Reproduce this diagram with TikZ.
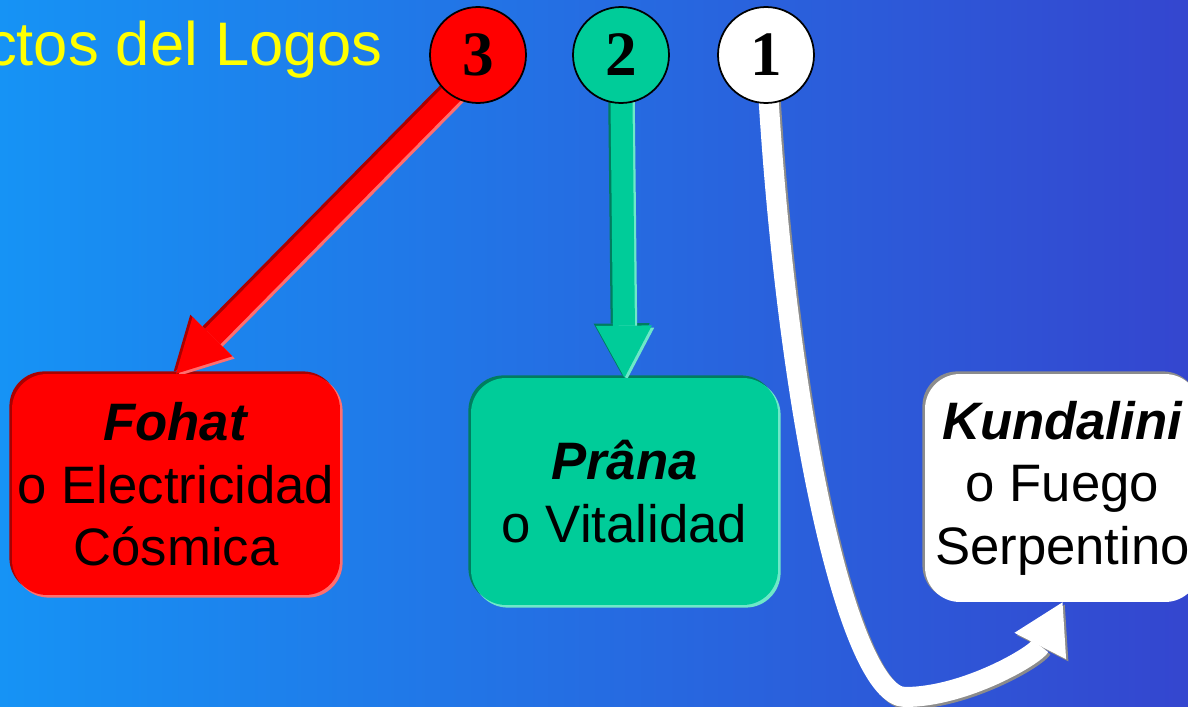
\documentclass[tikz,border=0pt]{standalone}
\usepackage{fontspec}
\setmainfont{Liberation Sans}
\newfontfamily\numfont{Liberation Serif}
\usetikzlibrary{arrows.meta,calc}
\definecolor{bgL}{RGB}{22,147,245}
\definecolor{bgR}{RGB}{52,70,207}
\definecolor{tealF}{RGB}{0,204,153}
\definecolor{tealD}{RGB}{0,125,95}
\definecolor{tealL}{RGB}{110,232,200}
\definecolor{redD}{RGB}{170,0,0}
\definecolor{redL}{RGB}{255,110,110}
\definecolor{grayS}{RGB}{140,140,140}
\definecolor{titleY}{RGB}{255,255,0}
\pgfdeclarelayer{back}
\pgfdeclarelayer{mid}
\pgfsetlayers{back,mid,main}
\begin{document}
\begin{tikzpicture}[x=0.02cm,y=-0.02cm,
  titletext/.style={text=titleY,font=\fontsize{35}{40}\selectfont,inner sep=0},
  numnode/.style={circle,draw=black,line width=1pt,minimum size=1.92cm,inner sep=0,
    font=\numfont\bfseries\fontsize{36}{36}\selectfont},
  boxnode/.style={rounded corners=0.7cm,inner sep=0,align=center,
    font=\fontsize{30}{35.5}\selectfont},
  fatarrow/.style={line width=0.44cm,-{Triangle[width=1.12cm,length=1.04cm,line width=0pt]}},
  whitearrow/.style={line width=0.4cm,-{Triangle[width=1.16cm,length=0.98cm,line width=0pt]}},
  upleft/.style={transform canvas={xshift=-1.3pt,yshift=1.3pt}},
  downright/.style={transform canvas={xshift=1.3pt,yshift=-1.3pt}}
]
\useasboundingbox (0,0) rectangle (1188,707);
\begin{pgfonlayer}{back}
\shade[left color=bgL,right color=bgR] (0,0) rectangle (1188,707);
\end{pgfonlayer}

% title
\node[titletext,anchor=base east] (title) at (383,65) {ctos del Logos};

% numbered circles
\node[numnode,fill=red] (c3) at (478,55) {3};
\node[numnode,fill=tealF] (c2) at (621,55) {2};
\node[numnode,fill=white] (c1) at (766,55) {1};

% boxes
\node[boxnode,fill=red,minimum width=6.56cm,minimum height=4.42cm] (fohat) at (176,484.5)
  {\textbf{\textit{Fohat}}\\o Electricidad\\Cósmica};
\node[boxnode,fill=tealF,minimum width=6.14cm,minimum height=4.54cm] (prana) at (624.5,491.5)
  {\textbf{\textit{Prâna}}\\o Vitalidad};
\node[boxnode,fill=white,minimum width=5.5cm,minimum height=4.56cm] (kund) at (1062.5,488)
  {\textbf{\textit{Kundalini}}\\o Fuego \\Serpentino};

\coordinate (wb) at (905,697);

\begin{pgfonlayer}{mid}
% box bevels
\fill[redD,rounded corners=0.7cm,upleft] (fohat.north west) rectangle (fohat.south east);
\fill[redL,rounded corners=0.7cm,downright] (fohat.north west) rectangle (fohat.south east);
\fill[tealD,rounded corners=0.7cm,upleft] (prana.north west) rectangle (prana.south east);
\fill[tealL,rounded corners=0.7cm,downright] (prana.north west) rectangle (prana.south east);
\fill[grayS,rounded corners=0.7cm,upleft] (kund.north west) rectangle (kund.south east);

% red arrow 3 -> Fohat
\draw[fatarrow,redD,upleft] ([shift={(12,0)}]c3.center) -- (fohat.north);
\draw[fatarrow,redL,downright] ([shift={(12,0)}]c3.center) -- (fohat.north);
\draw[fatarrow,red] ([shift={(12,0)}]c3.center) -- (fohat.north);

% teal arrow 2 -> Prana
\draw[fatarrow,tealD,upleft] (c2.center) -- (prana.north);
\draw[fatarrow,tealL,downright] (c2.center) -- (prana.north);
\draw[fatarrow,tealF] (c2.center) -- (prana.north);

% white arrow 1 -> Kundalini
\draw[whitearrow,grayS,downright] (c1.center) .. controls +(19,365) and +(-55,0) .. (wb)
  .. controls +(60,0) and +(-27,53) .. (kund.south);
\draw[whitearrow,white] (c1.center) .. controls +(19,365) and +(-55,0) .. (wb)
  .. controls +(60,0) and +(-27,53) .. (kund.south);
\end{pgfonlayer}
\end{tikzpicture}
\end{document}
